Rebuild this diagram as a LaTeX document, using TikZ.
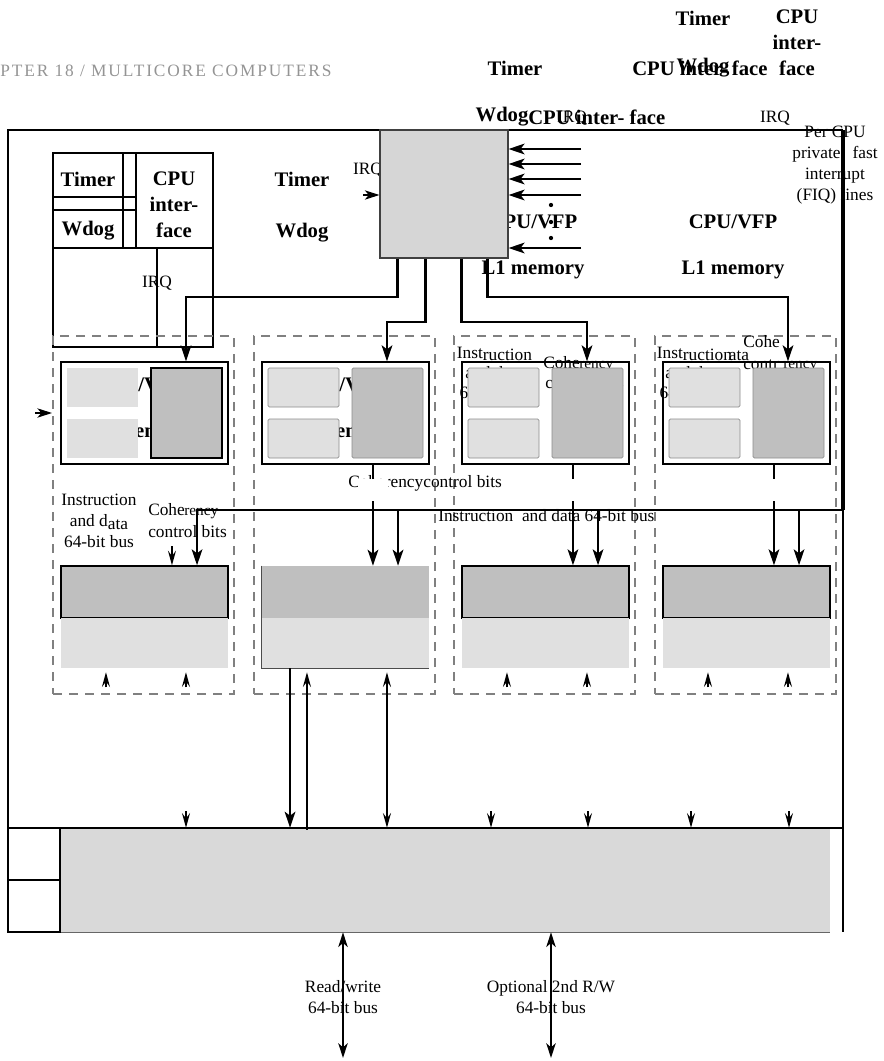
\documentclass[tikz,border=0pt]{standalone}
\usepackage{fontspec}
\setmainfont{Liberation Serif}
\usetikzlibrary{arrows.meta}

\begin{document}
\begin{tikzpicture}[x=0.75pt,y=-0.75pt]
\tikzset{
lbl/.style={inner sep=0pt, font=\fontsize{13}{15.75}\selectfont},
tiny/.style={inner sep=0pt, font=\fontsize{11.5}{13}\selectfont},
blabel/.style={inner sep=0pt, font=\fontsize{15.5}{19.5}\selectfont\bfseries},
conn/.style={line width=1.65pt, -{Stealth[length=12pt, width=8pt, inset=3pt]}},
head/.style={line width=1pt, -{Stealth[length=11pt, width=6pt, inset=4pt]}},
irqhead/.style={line width=1pt, -{Stealth[length=11pt, width=7pt, inset=3pt]}},
dbl/.style={line width=1.65pt, {Stealth[length=11pt, width=7pt, inset=3pt]}-{Stealth[length=11pt, width=7pt, inset=3pt]}},
dashbox/.style={draw=black!50, line width=1.5pt, dash pattern=on 6.75pt off 5.25pt, minimum width=135.75pt, minimum height=268.5pt, inner sep=0pt},
cpubox/.style={draw, line width=1pt, minimum width=125.25pt, minimum height=76.5pt, inner sep=0pt},
lite/.style={fill=black!12, minimum width=53.25pt, minimum height=29.25pt, inner sep=0pt},
liteedge/.style={lite, draw=black!45, line width=0.5pt, rounded corners=1pt},
dark/.style={fill=black!25, minimum width=53.25pt, minimum height=67.5pt, inner sep=0pt},
darkedge/.style={dark, draw, line width=1pt},
darkgray/.style={dark, draw=black!45, line width=0.5pt, rounded corners=1pt},
l2top/.style={fill=black!25, minimum width=125.25pt, minimum height=39pt, inner sep=0pt},
l2edge/.style={l2top, draw, line width=1pt},
l2low/.style={fill=black!12, minimum width=125.25pt, minimum height=37.5pt, inner sep=0pt}
}

	\useasboundingbox (0,0) rectangle (883,1061);

	% running head and stray labels on top
	\node[anchor=west, inner sep=0pt, text=black!42, font=\fontsize{13}{15}\selectfont\addfontfeature{LetterSpace=11}] (hdr) at (0,71) {PTER 18 / MULTICORE COMPUTERS};

	\node[blabel] (tmr3) at (703,18) {Timer};
	\node[blabel, align=center] (cif3) at (797,43) {CPU\\inter-\\face};
	\node[blabel] (wdg3) at (703,68) {Wdog};
	\node[blabel] (tmr2) at (515,68) {Timer};
	\node[blabel, anchor=west] (cif2) at (632,68) {CPU inter-\,face};
	\node[blabel] (wdg2) at (502,117) {Wdog};
	\node[blabel, anchor=west] (cif2b) at (528,117) {CPU inter- face};
	\node[lbl] (irq3) at (572,118) {IRQ};
	\node[lbl] (irq4) at (775,118) {IRQ};

	% chip frame
	\draw[line width=1.9pt] (8,932) -- (8,130) -- (843,130);
	\node[lbl, align=center] (fiq) at (835,165) {Per CPU\\private\hspace{9pt}fast\\interrupt\\(FIQ) lines};
	\draw[line width=3pt] (843,130) -- (843,510);
	\draw[line width=1.5pt] (843,510) -- (843,932);

	% timer / watchdog / cpu interface block
	\node[draw, line width=0.8pt, minimum width=120pt, minimum height=145.5pt, inner sep=0pt] (ctl) at (133,250) {};
	\draw[line width=0.8pt] (123,153) -- (123,248) (136,153) -- (136,248)
		(53,197) -- (136,197) (53,210) -- (136,210)
		(53,248) -- (213,248) (157,248) -- (157,347);
	\node[blabel] (tmr1) at (88,179) {Timer};
	\node[blabel] (wdg1) at (88,231) {Wdog};
	\node[blabel, align=center] (cif1) at (174,205) {CPU\\inter-\\face};
	\node[lbl] (irq1) at (157,283) {IRQ};

	\node[blabel] (tmr0) at (302,179) {Timer};
	\node[blabel] (wdg0) at (302,233) {Wdog};
	\node[lbl] (irq2) at (368,170) {IRQ};
	\node[blabel] (vfp0) at (533,222) {CPU/VFP};
	\node[blabel] (l1m0) at (533,270) {L1 memory};
	\node[blabel] (vfpx) at (733,222) {CPU/VFP};
	\node[blabel] (l1mx) at (733,270) {L1 memory};

	% interrupt distributor
	\node[draw=black!75, fill=black!16, line width=0.8pt, minimum size=96pt, inner sep=0pt] (dist) at (444,194) {};
	\foreach \y [count=\k] in {149,164,179,195,248} {
		\coordinate (fiq\k) at (581,\y);
		\draw[conn] (fiq\k) -- (fiq\k -| dist.east);
	}
	\foreach \y in {205,222,238} \fill (551,\y) circle (1.6pt);
	\coordinate (irqin) at (363,195);
	\draw[irqhead] (irqin) -- (irqin -| dist.west);

	% cores
	\foreach \i/\dx/\ts in {1/0/l2edge, 2/201/l2top, 3/401/l2edge, 4/602/l2edge} {
		\node[dashbox] (core\i) at (143.5+\dx,515) {};
		\node[cpubox] (cpu\i) at (144.5+\dx,413) {};
		\node[\ts] (l2t\i) at (144.5+\dx,592) {};
		\node[l2low] (l2b\i) at (144.5+\dx,643) {};
	}
	\draw[line width=0.8pt, black!70] (l2t2.north west) -- (l2b2.south west) -- (l2b2.south east);
	\coordinate (irqc) at (35,413);
	\draw[irqhead] (irqc) -- ++(17,0);

	\node[blabel] (vfp1) at (140,385) {CPU/VFP};
	\node[blabel] (l1m1) at (140,433) {L1 memory};
	\node[blabel] (vfp2) at (341,385) {CPU/VFP};
	\node[blabel] (l1m2) at (341,433) {L1 memory};

	\node[lbl, align=center, font=\fontsize{13}{15}\selectfont] (idb3) at (494.5,373) {Inst\raisebox{-1.5pt}{ruction}\\and data\\64-bit bus};
	\node[lbl, anchor=west] (coh3a) at (543,363) {Cohe};
	\node[tiny, anchor=west] (coh3b) at (579,367) {rency};
	\node[lbl, anchor=west] (coh3c) at (545,383) {control bits};
	\node[lbl, align=center, font=\fontsize{13}{15}\selectfont] (idb4) at (694.5,373) {Inst\raisebox{-1.5pt}{ruction}\\and data\\64-bit bus};
	\node[lbl] (ata4) at (739,356) {ata};
	\node[lbl, anchor=west] (coh4a) at (743,342) {Cohe};
	\node[lbl, anchor=west] (coh4c) at (743,365) {contr};
	\node[tiny, anchor=west] (coh4b) at (783,367) {rency};

	\foreach \i/\dx/\ls/\ks in {1/0/lite/darkedge, 2/201/liteedge/darkgray, 3/401/liteedge/darkgray, 4/602/liteedge/darkgray} {
		\node[\ls] (ic\i) at (102.5+\dx,387.5) {};
		\node[\ls] (dc\i) at (102.5+\dx,438.5) {};
		\node[\ks] (mmu\i) at (186.5+\dx,413) {};
	}

	% labels between cpu and l2
	\node[lbl, align=center] (idb1) at (99,521) {Instruction\\and d\raisebox{-2pt}{ata}\\64-bit bus};
	\node[lbl, anchor=west] (coh1a) at (148,510) {Cohe};
	\node[tiny, anchor=west] (coh1b) at (184,514) {rency};
	\node[lbl, anchor=west] (coh1c) at (148,532) {control bits};
	\node[lbl, anchor=west] (coh2) at (348,483) {Coherencycontrol bits};
	\node[lbl, anchor=west] (idb3b) at (438,516) {Instruction\enspace and data 64-bit bus};

	% irq lines from the distributor
	\coordinate (k1) at (186,297);
	\coordinate (k2) at (387,322);
	\coordinate (k3) at (587,322);
	\coordinate (k4) at (788,297);
	\draw[conn] ([xshift=13.5pt]dist.south west) |- (k1) -- (k1 |- cpu1.north);
	\draw[conn] ([xshift=34.5pt]dist.south west) |- (k2) -- (k2 |- cpu2.north);
	\draw[conn] ([xshift=61.5pt]dist.south west) |- (k3) -- (k3 |- cpu3.north);
	\draw[conn] ([xshift=81pt]dist.south west) |- (k4) -- (k4 |- cpu4.north);

	% coherency and data lines
	\coordinate (cohr) at (843,510);
	\foreach \i in {1,...,4} {
		\coordinate (ca\i) at ([xshift=20.6pt]l2t\i.north);
		\coordinate (cb\i) at ([xshift=39.4pt]l2t\i.north);
	}
	\draw[conn] (cohr) -| (cb1);
	\draw[head] (ca1) ++(0,-19) -- (ca1);
	\foreach \i in {2,3,4} {
		\draw[conn] (cb\i |- cohr) -- (cb\i);
		\draw[conn] (ca\i |- cpu\i.south) -- (ca\i);
		\fill[white] (ca\i |- cpu\i.south) ++(-15,14) rectangle ++(30,22);
	}

	% bottom bus block
	\node[fill=black!15, minimum width=577.5pt, minimum height=78pt, inner sep=0pt] (bus) at (445,880) {};
	\draw[black!60, line width=0.6pt] (bus.south west) -- (bus.south east);
	\node[draw, line width=1.2pt, minimum width=39pt, minimum height=39pt, inner sep=0pt] (sb1) at (34,854) {};
	\node[draw, line width=1.2pt, minimum width=39pt, minimum height=39pt, inner sep=0pt] (sb2) at (34,906) {};

	\foreach \i in {1,3,4} {
		\coordinate (ua\i) at ([xshift=-28.9pt,yshift=-3pt]l2b\i.south);
		\coordinate (ub\i) at ([xshift=31.1pt,yshift=-3pt]l2b\i.south);
		\draw[head] (ua\i) ++(0,15) -- (ua\i);
		\draw[head] (ub\i) ++(0,15) -- (ub\i);
	}
	\coordinate (ua2) at ([xshift=-28.9pt,yshift=-3pt]l2b2.south);
	\coordinate (ub2) at ([xshift=31.1pt,yshift=-3pt]l2b2.south);
	\coordinate (ud2) at ([xshift=-41.6pt]l2b2.south);
	\draw[line width=1.65pt, -{Stealth[length=11pt, width=6pt, inset=4pt]}] ([yshift=-1.5pt]ua2 |- bus.north) -- (ua2);
	\draw[line width=1.65pt, {Stealth[length=11pt, width=6pt, inset=4pt]}-{Stealth[length=11pt, width=6pt, inset=4pt]}] (ub2) -- (ub2 |- bus.north);
	\draw[conn] (ud2) -- (ud2 |- bus.north);
	\foreach \x in {186,491,588,691,789} {
		\coordinate (dn) at (\x,811);
		\draw[head] (dn) -- (dn |- bus.north);
	}
	\draw[line width=1.5pt] (8,828) -- (843,828);

	% external buses
	\coordinate (rw1) at (343,1058);
	\coordinate (rw2) at (551,1058);
	\node[lbl, align=center] (rwl1) at (343,997) {Read/write\\64-bit bus};
	\node[lbl, align=center] (rwl2) at (551,997) {Optional 2nd R/W\\64-bit bus};
	\draw[dbl] (rw1 |- bus.south) -- (rw1);
	\draw[dbl] (rw2 |- bus.south) -- (rw2);

\end{tikzpicture}
\end{document}
